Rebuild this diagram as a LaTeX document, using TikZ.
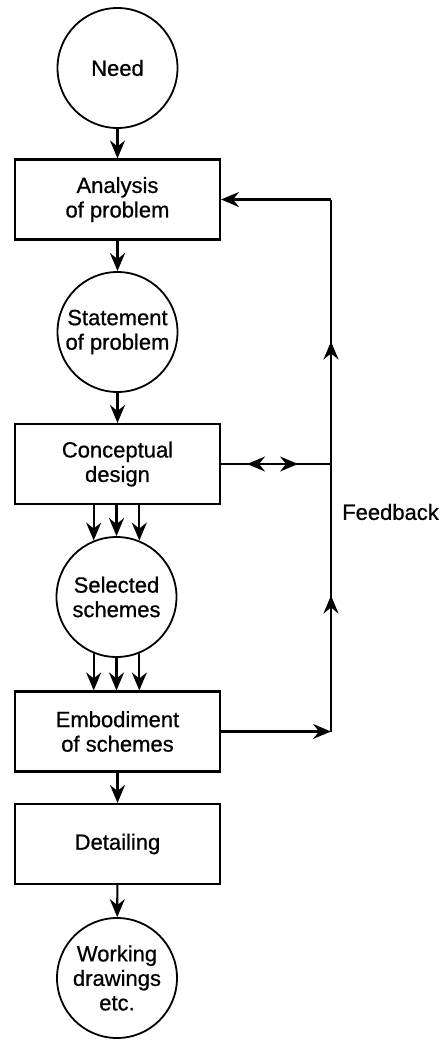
\documentclass[tikz,border=0pt]{standalone}
\usepackage{fontspec}
\setmainfont{Liberation Sans}
\newfontfamily\labelface[FakeBold=0.7]{Liberation Sans}
\usetikzlibrary{arrows.meta,decorations.markings}
\newcommand\stagefont{\labelface\fontsize{22}{24.5}\selectfont}

\begin{document}
\begin{tikzpicture}[x=1pt,y=-1pt,
  stage/.style={draw, line width=2.1pt, minimum width=205pt, minimum height=80pt,
                inner sep=0pt, align=center, font=\stagefont},
  state/.style={draw, circle, line width=1.8pt, minimum size=120pt,
                inner sep=0pt, align=center, font=\stagefont},
  link/.style={line width=2.1pt},
  flow/.style={link, -{Stealth[length=18pt,width=15pt,inset=6pt]}},
  midtips/.style={decoration={markings,
      mark=at position 26pt with {\arrowreversed{Stealth[length=18pt,width=15pt,inset=6pt]}},
      mark=at position 77pt with {\arrow{Stealth[length=18pt,width=15pt,inset=6pt]}}},
      postaction={decorate}},
  uptips/.style={decoration={markings,
      mark=at position 136pt with {\arrow{Stealth[length=18pt,width=15pt,inset=6pt]}},
      mark=at position 390pt with {\arrow{Stealth[length=18pt,width=15pt,inset=6pt]}}},
      postaction={decorate}},
]
\useasboundingbox[fill=white] (0,0) rectangle (440,1041);

% design stages
\node[state] (need) at (117.5,68)    {Need};
\node[stage] (ana)  at (117.5,199.5) {Analysis\\of problem};
\node[state] (stm)  at (117.5,332)   {Statement\\of problem};
\node[stage] (con)  at (117.5,464)   {Conceptual\\design};
\node[state] (sel)  at (116.5,597)   {Selected\\schemes};
\node[stage] (emb)  at (117.5,731.5) {Embodiment\\of schemes};
\node[stage] (det)  at (117.5,844)   {Detailing};
\node[state] (wrk)  at (117,978)     {Working\\drawings\\etc.};
\node[anchor=west, inner sep=0pt, font=\stagefont] (fb) at (342,512) {Feedback};

% feedback bus
\coordinate (jt) at (331,199.5);
\coordinate (jc) at (331,464);
\coordinate (jb) at (331,731.5);

% main flow
\draw[flow] (need) -- (ana);
\draw[flow] (ana) -- (stm);
\draw[flow] (stm) -- (con);
\foreach \a in {68,90,112}
  \draw[flow] (sel.\a |- con.south) -- (sel.\a);
\foreach \a in {292,270,248}
  \draw[flow] (sel.\a) -- (sel.\a |- emb.north);
\draw[flow] (emb) -- (det);
\draw[flow] (det) -- (wrk);

% feedback loop
\draw[flow] (emb.east) -- (jb);
\draw[link, uptips] (jb) -- (jt);
\draw[flow] (jt) -- (ana.east);
\draw[link, midtips] (con.east) -- (jc);
\end{tikzpicture}
\end{document}
